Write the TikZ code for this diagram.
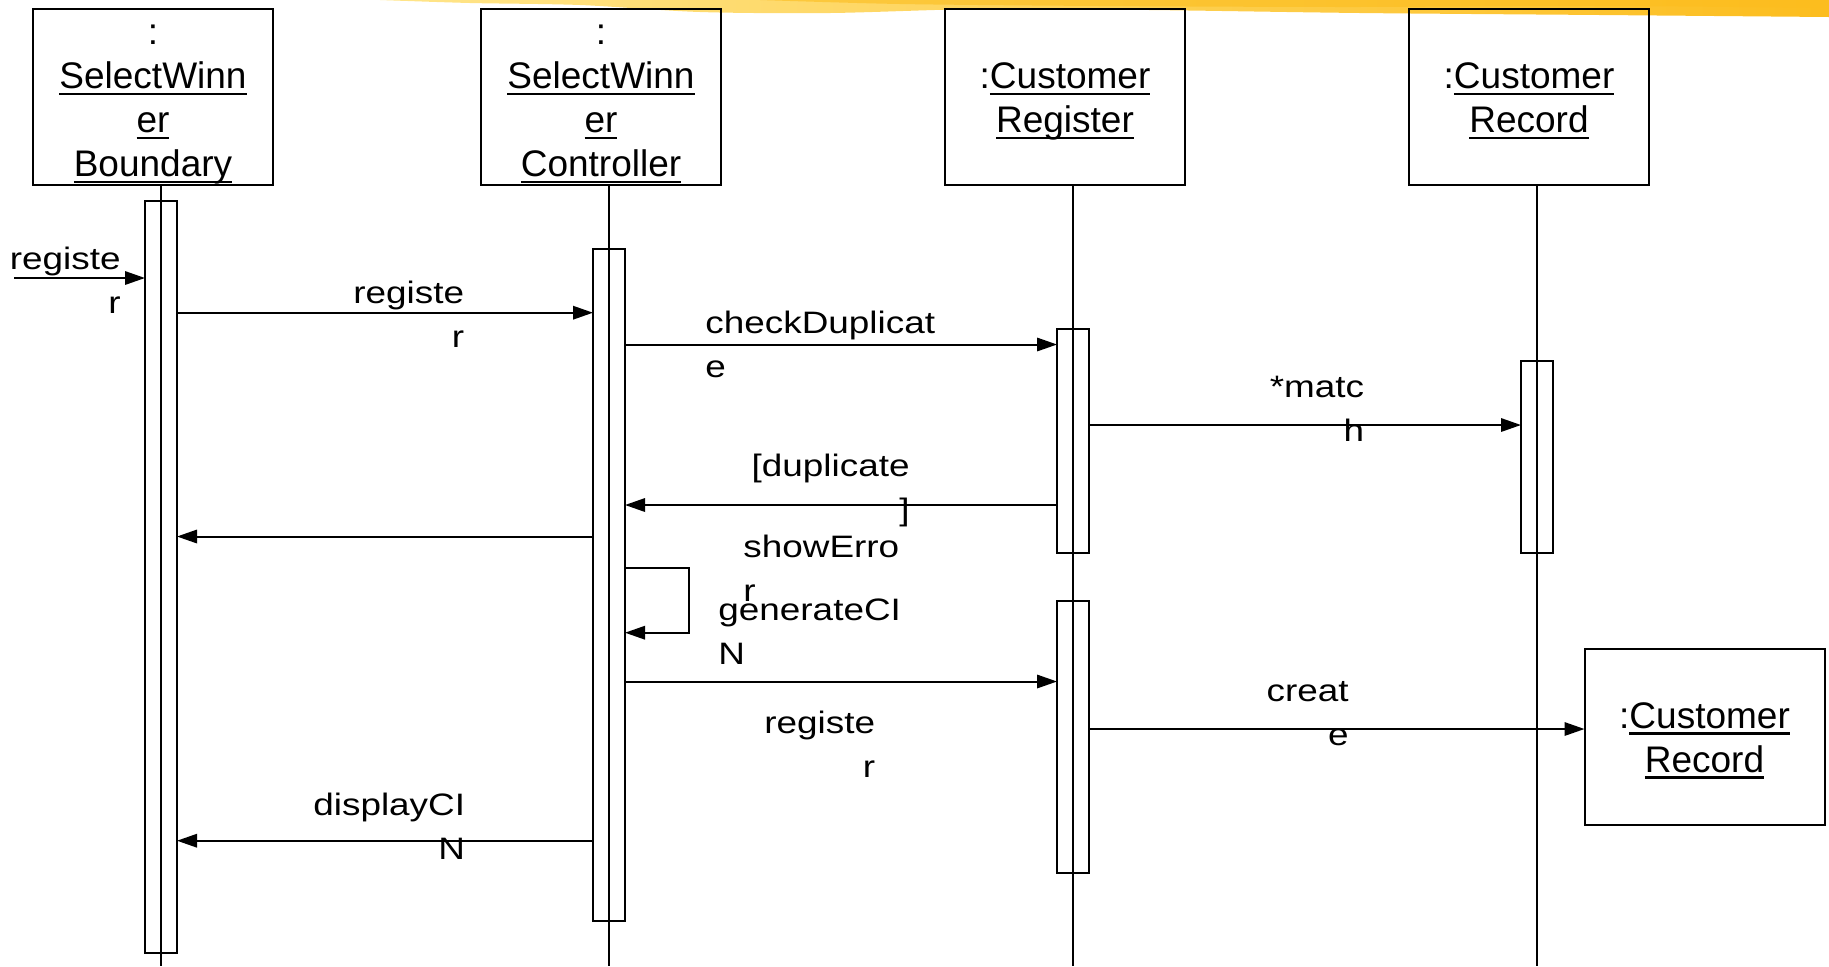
\documentclass[tikz,border=0pt]{standalone}
\usepackage{fontspec}
\setmainfont{Liberation Sans}
\newfontfamily\lblfont[FakeStretch=1.19]{Liberation Sans}
\usepackage{tikz}
\usetikzlibrary{arrows.meta}
\definecolor{brushlight}{HTML}{FFE58A}
\definecolor{brushdark}{HTML}{FCBD1E}
\newcommand{\undr}[1]{\leavevmode\setbox0=\hbox{#1}\rlap{\rule[-3.25pt]{\wd0}{1.25pt}}\box0}
\newcommand{\objlines}[1]{\raisebox{-2.4pt}[\height][\depth]{\begin{tabular}{@{}c@{}}#1\end{tabular}}}
\tikzset{
  obj/.style={draw, line width=1pt, minimum width=120pt, minimum height=88pt,
    inner sep=0pt, outer sep=0pt, font=\fontsize{18.5}{22}\selectfont},
  act/.style={draw, line width=1pt, minimum width=16pt, inner sep=0pt, outer sep=0pt},
  life/.style={line width=0.6pt},
  msg/.style={line width=1pt, -{Triangle[length=10pt,width=6.7pt]}},
  lbl/.style={inner sep=0pt, font=\lblfont\fontsize{15.5}{22}\selectfont},
}

\begin{document}
\begin{tikzpicture}[x=0.5pt, y=-0.5pt]
\useasboundingbox (0,0) rectangle (1829,966);
%% brush stroke of the slide
\shade[left color=brushlight, right color=brushdark]
  (380,0) -- plot[smooth] coordinates {(380,0) (470,3) (580,5) (700,12) (830,13) (980,9) (1150,10) (1360,13) (1600,15) (1829,17)} -- (1829,0) -- cycle;
\fill[brushdark, opacity=0.6]
  plot[smooth] coordinates {(760,0) (900,4) (1100,6) (1350,7) (1600,6) (1829,8)} -- (1829,0) -- cycle;

%% objects
\node[obj] (bnd) at (153,97) {\objlines{:\\\undr{SelectWinn}\\\undr{er}\\\undr{Boundary}}};
\node[obj] (ctl) at (601,97) {\objlines{:\\\undr{SelectWinn}\\\undr{er}\\\undr{Controller}}};
\node[obj] (reg) at (1065,97) {\objlines{:\undr{Customer}\\\undr{Register}}};
\node[obj] (rec) at (1529,97) {\objlines{:\undr{Customer}\\\undr{Record}}};
\node[obj] (newrec) at (1704.5,736.7) {\objlines{:\undr{Customer}\\\undr{Record}}};

%% activations
\node[act, minimum height=376.15pt] (a1) at (161,576.85) {};
\node[act, minimum height=336pt] (a2) at (609,584.7) {};
\node[act, minimum height=111.7pt] (a3) at (1073,441) {};
\node[act, minimum height=95.85pt] (a4) at (1537,456.85) {};
\node[act, minimum height=136pt] (a5) at (1073,737) {};

%% lifelines
\coordinate (bot) at (0,966);
\draw[life] (a1 |- bnd.south) -- (a1 |- bot);
\draw[life] (a2 |- ctl.south) -- (a2 |- bot);
\draw[life] (a3 |- reg.south) -- (a3 |- bot);
\draw[life] (a4 |- rec.south) -- (a4 |- bot);

%% message heights
\coordinate (start) at (14,278);
\coordinate (m1) at (0,312.7);
\coordinate (m2) at (0,344.5);
\coordinate (m3) at (0,425);
\coordinate (m4) at (0,505);
\coordinate (m5) at (0,536.5);
\coordinate (s1) at (0,568.3);
\coordinate (s2) at (0,632.7);
\coordinate (m7) at (0,681.5);
\coordinate (m8) at (0,729);
\coordinate (m9) at (0,840.7);

%% messages
\draw[msg] (start) -- (a1.west |- start);
\draw[msg] (a1.east |- m1) -- (a2.west |- m1);
\draw[msg] (a2.east |- m2) -- (a3.west |- m2);
\draw[msg] (a3.east |- m3) -- (a4.west |- m3);
\draw[msg] (a3.west |- m4) -- (a2.east |- m4);
\draw[msg] (a2.west |- m5) -- (a1.east |- m5);
\draw[msg] (a2.east |- s1) -- ++(64,0) |- (a2.east |- s2);
\draw[msg] (a2.east |- m7) -- (a5.west |- m7);
\draw[msg] (a5.east |- m8) -- (newrec.west |- m8);
\draw[msg] (a2.west |- m9) -- (a1.east |- m9);

%% labels
\node[lbl, align=right, anchor=north east] (lfound) at (121,238.5) {\strut registe\\r};
\node[lbl, align=right, anchor=north east] (lreg) at (464.5,272.5) {\strut registe\\r};
\node[lbl, align=left, anchor=north west] (lchk) at (705,301.9) {\strut checkDuplicat\\e};
\node[lbl, align=right, anchor=north east] (lmatch) at (1364.5,365.9) {\strut *matc\\h};
\node[lbl, align=right, anchor=north east] (ldup) at (910,445.2) {\strut [duplicate\\]};
\node[lbl, align=left, anchor=north west] (lerr) at (743,525.9) {\strut showErro\\r};
\node[lbl, align=left, anchor=north west] (lgen) at (718,589.2) {\strut generateCI\\N};
\node[lbl, align=right, anchor=north east] (lreg2) at (875.5,701.9) {\strut registe\\r};
\node[lbl, align=right, anchor=north east] (lcreate) at (1349,670.2) {\strut creat\\e};
\node[lbl, align=right, anchor=north east] (ldisp) at (465.5,784.2) {\strut displayCI\\N};
\end{tikzpicture}
\end{document}
